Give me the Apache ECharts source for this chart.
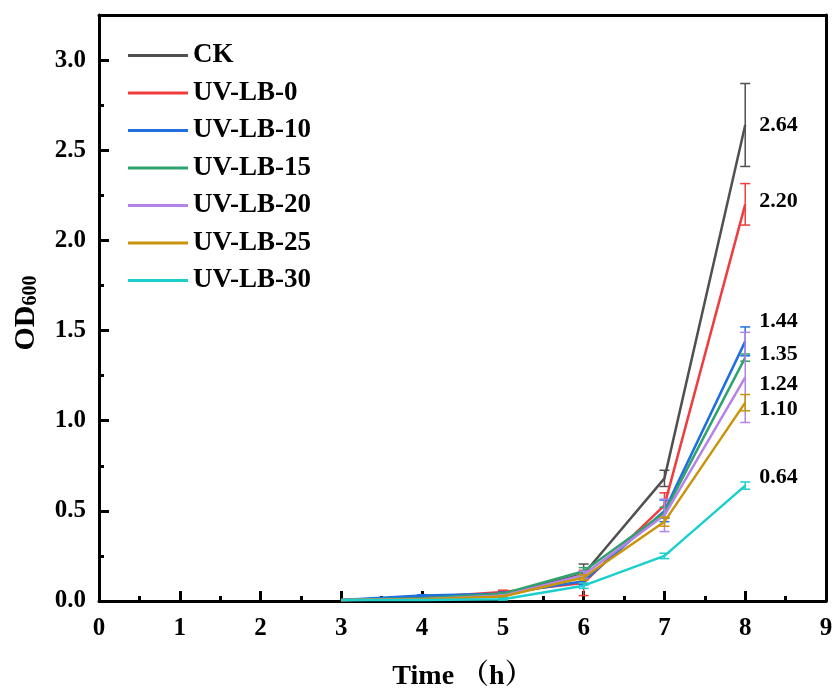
<!DOCTYPE html>
<html>
<head>
<meta charset="utf-8">
<script src="https://cdn.jsdelivr.net/npm/echarts@6/dist/echarts.min.js"></script>
<style>html,body{margin:0;padding:0;background:#fff;}#c{width:833px;height:688px;}</style>
</head>
<body>
<div id="c"></div>
<script>
const times = [3, 4, 5, 6, 7, 8];
const seriesNames = ['CK', 'UV-LB-0', 'UV-LB-10', 'UV-LB-15', 'UV-LB-20', 'UV-LB-25', 'UV-LB-30'];
const ck     = [0.005, 0.015, 0.035, 0.150, 0.68, 2.64];
const uv0    = [0.005, 0.020, 0.050, 0.100, 0.53, 2.20];
const uv10   = [0.005, 0.030, 0.040, 0.110, 0.50, 1.44];
const uv15   = [0.005, 0.015, 0.040, 0.165, 0.49, 1.35];
const uv20   = [0.005, 0.010, 0.030, 0.145, 0.475, 1.24];
const uv25   = [0.005, 0.010, 0.025, 0.130, 0.44, 1.10];
const uv30   = [0.005, 0.005, 0.010, 0.085, 0.25, 0.64];
const ckErr   = [0, 0.005, 0.010, 0.055, 0.045, 0.23];
const uv0Err  = [0, 0.005, 0.010, 0.070, 0.070, 0.115];
const uv10Err = [0, 0.005, 0.010, 0.020, 0.060, 0.08];
const uv15Err = [0, 0, 0.005, 0.020, 0.030, 0.02];
const uv20Err = [0, 0, 0.005, 0.020, 0.090, 0.25];
const uv25Err = [0, 0, 0.005, 0.015, 0.025, 0.045];
const uv30Err = [0, 0, 0.005, 0.015, 0.015, 0.02];

const values = [ck, uv0, uv10, uv15, uv20, uv25, uv30];
const errs = [ckErr, uv0Err, uv10Err, uv15Err, uv20Err, uv25Err, uv30Err];
const colors = ['#505050', '#f03c3c', '#1f6fe0', '#2fa36b', '#b583e8', '#c9940a', '#1ccfcf'];
const labelDy = [0, -3, -20, -3, 7, 7, -8];
const FONT = '"Times New Roman","Liberation Serif",serif';

const series = [];
values.forEach((vals, k) => {
  series.push({
    name: seriesNames[k],
    type: 'line',
    data: times.map((t, i) => [t, vals[i]]),
    symbol: 'none',
    lineStyle: { color: colors[k], width: 2.5 },
    itemStyle: { color: colors[k] },
    z: 3 + k,
    endLabel: {
      show: true,
      formatter: p => p.value[1].toFixed(2),
      distance: 14,
      offset: [0, labelDy[k]],
      fontFamily: FONT, fontWeight: 'bold', fontSize: 22, color: '#000'
    }
  });
});
values.forEach((vals, k) => {
  const col = colors[k];
  series.push({
    name: seriesNames[k] + ' err',
    type: 'custom',
    z: 3 + k,
    silent: true,
    data: times.map((t, i) => [t, vals[i] - errs[k][i], vals[i] + errs[k][i]]),
    encode: { x: 0, y: [1, 2] },
    renderItem: (params, api) => {
      const x = api.value(0), lo = api.value(1), hi = api.value(2);
      if (hi - lo < 1e-6) return { type: 'group', children: [] };
      const p1 = api.coord([x, hi]), p2 = api.coord([x, lo]);
      const w = 5;
      const st = { stroke: col, lineWidth: 1.5 };
      return {
        type: 'group',
        children: [
          { type: 'line', shape: { x1: p1[0], y1: p1[1], x2: p2[0], y2: p2[1] }, style: st },
          { type: 'line', shape: { x1: p1[0] - w, y1: p1[1], x2: p1[0] + w, y2: p1[1] }, style: st },
          { type: 'line', shape: { x1: p2[0] - w, y1: p2[1], x2: p2[0] + w, y2: p2[1] }, style: st }
        ]
      };
    }
  });
});

const axisLineSt = { show: true, onZero: false, lineStyle: { color: '#000', width: 3 } };
const tickSt = { show: true, inside: true, length: 10, lineStyle: { color: '#000', width: 3 } };
const minorSt = { show: true, splitNumber: 2, length: 5, lineStyle: { color: '#000', width: 3 } };

const chart = echarts.init(document.getElementById('c'));
chart.setOption({
  animation: false,
  backgroundColor: '#fff',
  grid: { left: 99, right: 7, top: 15, bottom: 87, show: false, outerBoundsMode: 'none', containLabel: false },
  legend: {
    data: seriesNames,
    orient: 'vertical',
    left: 123, top: 37,
    itemWidth: 60, itemHeight: 3, itemGap: 10.5,
    icon: 'rect',
    textStyle: { fontFamily: FONT, fontWeight: 'bold', fontSize: 27, lineHeight: 27, color: '#000' }
  },
  xAxis: [{
    type: 'value', min: 0, max: 9, interval: 1, position: 'bottom',
    name: 'Time （h）', nameLocation: 'middle', nameGap: 62,
    nameTextStyle: { fontFamily: '"Times New Roman","Liberation Serif","Noto Serif CJK SC","Noto Sans CJK SC",serif', fontWeight: 'bold', fontSize: 28, color: '#000' },
    axisLine: axisLineSt,
    axisTick: tickSt,
    minorTick: minorSt,
    splitLine: { show: false },
    axisLabel: { margin: 15, fontFamily: FONT, fontWeight: 'bold', fontSize: 25, color: '#000' }
  }, {
    type: 'value', min: 0, max: 9, interval: 1, position: 'top',
    axisLine: axisLineSt, axisTick: { show: false }, axisLabel: { show: false }, splitLine: { show: false }
  }],
  yAxis: [{
    type: 'value', min: 0, max: 3.25, interval: 0.5, position: 'left',
    name: '{a|OD}{b|600}', nameLocation: 'middle', nameRotate: 90, nameGap: 58,
    nameTextStyle: {
      rich: {
        a: { fontFamily: FONT, fontWeight: 'bold', fontSize: 30, lineHeight: 30, verticalAlign: 'top', color: '#000' },
        b: { fontFamily: FONT, fontWeight: 'bold', fontSize: 20, lineHeight: 20, padding: [16, 10, 0, 0], verticalAlign: 'bottom', color: '#000' }
      }
    },
    axisLine: axisLineSt,
    axisTick: tickSt,
    minorTick: minorSt,
    splitLine: { show: false },
    axisLabel: { margin: 13, fontFamily: FONT, fontWeight: 'bold', fontSize: 25, color: '#000',
      showMaxLabel: false, formatter: v => v.toFixed(1) }
  }, {
    type: 'value', min: 0, max: 3.25, interval: 0.5, position: 'right',
    axisLine: axisLineSt, axisTick: { show: false }, axisLabel: { show: false }, splitLine: { show: false }
  }],
  series: series
});
</script>
</body>
</html>
